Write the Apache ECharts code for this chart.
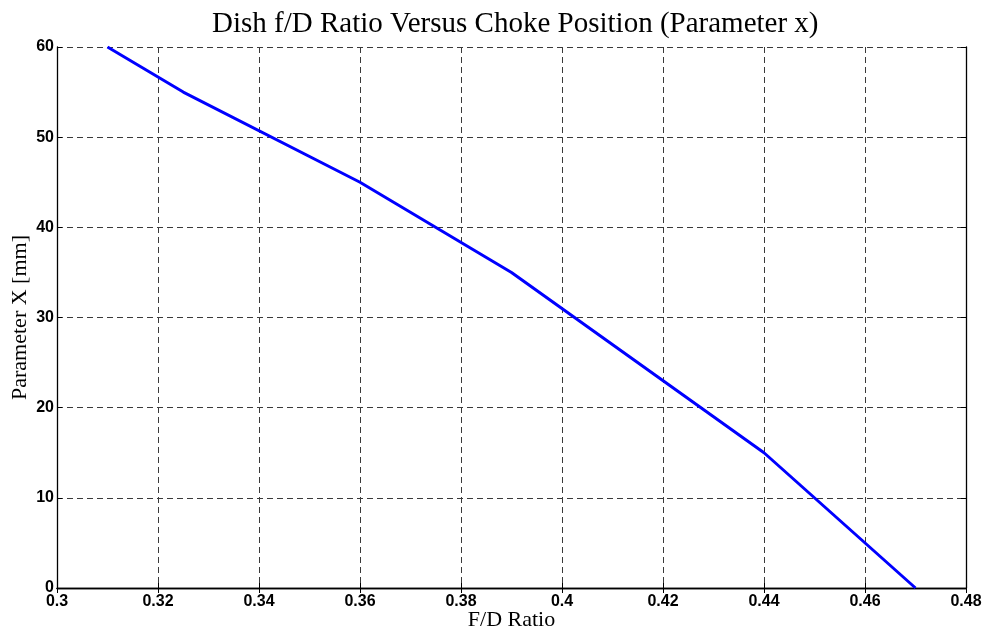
<!DOCTYPE html>
<html>
<head>
<meta charset="utf-8">
<script src="https://cdn.jsdelivr.net/npm/echarts@6/dist/echarts.min.js"></script>
<style>
  html, body { margin: 0; padding: 0; background: #fff; }
  #chart { width: 986px; height: 632px; }
</style>
</head>
<body>
<div id="chart"></div>
<script>
// f/D ratio and the matching choke position (parameter x, in mm)
const fdRatio = [0.31, 0.325, 0.36, 0.39, 0.44, 0.47];
const paramX = [60, 55, 45, 35, 15, 0];

const xTicks = { min: 0.3, max: 0.48, interval: 0.02 };
const yTicks = { min: 0, max: 60, interval: 10 };

const titleText = 'Dish f/D Ratio Versus Choke Position (Parameter x)';
const xName = 'F/D Ratio';
const yName = 'Parameter X [mm]';

const serif = '"Liberation Serif", "Times New Roman", serif';
const sans = '"Liberation Sans", Arial, sans-serif';

const gridLine = { show: true, lineStyle: { color: '#3a3a3a', width: 1, type: [6, 4] } };
const frameLine = { show: true, lineStyle: { color: '#000', width: 1.3 } };
const innerTick = { show: true, inside: true, length: 5, lineStyle: { color: '#000' } };

const chart = echarts.init(document.getElementById('chart'), null, { renderer: 'canvas' });

chart.setOption({
  animation: false,
  backgroundColor: '#fff',
  title: {
    text: titleText,
    left: 207,
    top: 5,
    textStyle: { fontFamily: serif, fontWeight: 'normal', fontSize: 29, color: '#000' }
  },
  grid: { left: 57, right: 20, top: 47, bottom: 44, containLabel: false, outerBoundsMode: 'none' },
  xAxis: [{
    type: 'value',
    min: xTicks.min, max: xTicks.max, interval: xTicks.interval,
    name: xName, nameLocation: 'middle', nameGap: 21, nameMoveOverlap: false,
    nameTextStyle: { fontFamily: serif, fontSize: 22, color: '#000' },
    axisLine: frameLine, axisTick: innerTick,
    axisLabel: {
      fontFamily: sans, fontWeight: 'bold', fontSize: 16, color: '#000', margin: 6,
      formatter: v => String(+v.toFixed(2))
    },
    splitLine: gridLine
  }, {
    type: 'value', position: 'top',
    min: xTicks.min, max: xTicks.max, interval: xTicks.interval,
    axisLine: frameLine, axisTick: innerTick,
    axisLabel: { show: false }, splitLine: { show: false }
  }],
  yAxis: [{
    type: 'value',
    min: yTicks.min, max: yTicks.max, interval: yTicks.interval,
    name: yName, nameLocation: 'middle', nameGap: 26, nameRotate: 90, nameMoveOverlap: false,
    nameTextStyle: { fontFamily: serif, fontSize: 22, color: '#000' },
    axisLine: frameLine, axisTick: innerTick,
    axisLabel: { fontFamily: sans, fontWeight: 'bold', fontSize: 16, color: '#000', margin: 3 },
    splitLine: gridLine
  }, {
    type: 'value', position: 'right',
    min: yTicks.min, max: yTicks.max, interval: yTicks.interval,
    axisLine: frameLine, axisTick: innerTick,
    axisLabel: { show: false }, splitLine: { show: false }
  }],
  series: [{
    type: 'line',
    data: fdRatio.map((f, i) => [f, paramX[i]]),
    showSymbol: false,
    lineStyle: { color: '#0000ff', width: 3 },
    z: 5
  }]
});
</script>
</body>
</html>
